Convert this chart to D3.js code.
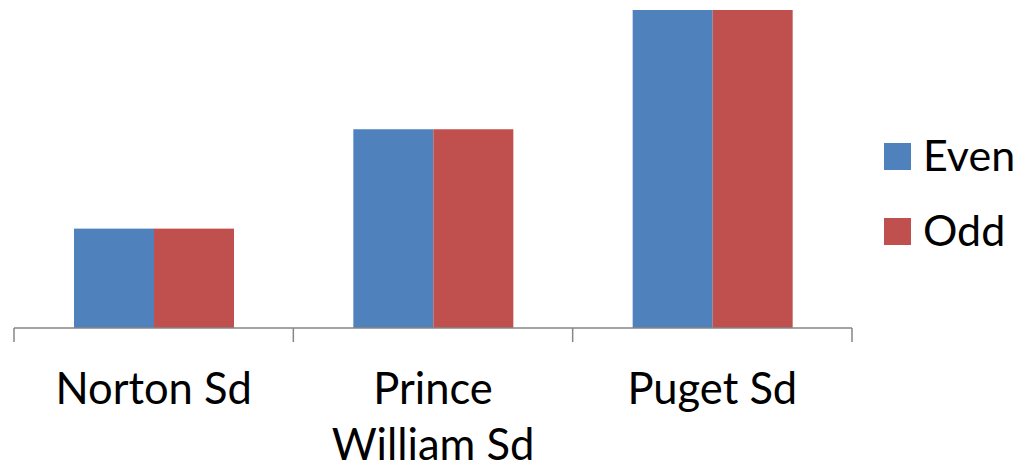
<html>
  <head>
    <meta charset="utf-8">
    <title>chart</title>
    <style>
      body { margin: 0; background: #fff; }
      text { font-family: Lato, "Noto Sans", sans-serif; fill: #000; }
    </style>
  </head>
  <body>
    <script src="https://cdn.jsdelivr.net/npm/d3@7"></script>
    <script>

var categories = ["Norton Sd", "Prince William Sd", "Puget Sd"];
var labelLines = [["Norton Sd"], ["Prince", "William Sd"], ["Puget Sd"]];
var series = ["Even", "Odd"];
var evenValues = [1.0, 2.0, 3.2];
var oddValues = [1.0, 2.0, 3.2];
var colors = ["#4F81BD", "#C0504D"];

var width = 1018, height = 468;
var plot = {left: 14, right: 852, top: 10, bottom: 328};

var svg = d3.select("body").append("svg")
    .attr("width", width)
    .attr("height", height);

var x0 = d3.scaleBand()
    .domain(categories)
    .range([plot.left, plot.right]);

var x1 = d3.scaleBand()
    .domain(series)
    .range([60, 220]);

var y = d3.scaleLinear()
    .domain([0, 3.2])
    .range([plot.bottom, plot.top]);

var data = categories.map(function (c, i) {
  return {cat: c, values: [evenValues[i], oddValues[i]]};
});

var groups = svg.selectAll(".grp")
  .data(data)
  .enter().append("g")
    .attr("transform", function (d) { return "translate(" + x0(d.cat) + ",0)"; });

groups.selectAll("rect")
  .data(function (d) { return d.values.map(function (v, j) { return {s: series[j], v: v, c: colors[j]}; }); })
  .enter().append("rect")
    .attr("x", function (d) { return x1(d.s); })
    .attr("y", function (d) { return y(d.v); })
    .attr("width", x1.bandwidth())
    .attr("height", function (d) { return y(0) - y(d.v); })
    .attr("fill", function (d) { return d.c; });

// category axis
var axis = svg.append("g");
axis.append("line")
    .attr("x1", plot.left).attr("x2", plot.right)
    .attr("y1", plot.bottom).attr("y2", plot.bottom)
    .attr("stroke", "#868686").attr("stroke-width", 1.5);

var tickPos = categories.map(function (c) { return x0(c); }).concat([plot.right]);
axis.selectAll(".tick")
  .data(tickPos)
  .enter().append("line")
    .attr("x1", function (d) { return d; }).attr("x2", function (d) { return d; })
    .attr("y1", plot.bottom).attr("y2", plot.bottom + 14)
    .attr("stroke", "#868686").attr("stroke-width", 1.5);

var labels = axis.selectAll(".lab")
  .data(categories)
  .enter().append("text")
    .attr("text-anchor", "middle")
    .attr("font-size", 43.5)
    .attr("x", function (d) { return x0(d) + x0.bandwidth() / 2; })
    .attr("y", 404);

labels.selectAll("tspan")
  .data(function (d, i) { return labelLines[i]; })
  .enter().append("tspan")
    .attr("x", function () { return d3.select(this.parentNode).attr("x"); })
    .attr("dy", function (d, i) { return i === 0 ? 0 : 56; })
    .text(function (d) { return d; });

// legend
var legend = svg.selectAll(".leg")
  .data(series)
  .enter().append("g")
    .attr("transform", function (d, i) { return "translate(884," + (143 + i * 75) + ")"; });

legend.append("rect")
    .attr("width", 27).attr("height", 27)
    .attr("fill", function (d, i) { return colors[i]; });

legend.append("text")
    .attr("x", 39).attr("y", 28)
    .attr("font-size", 43)
    .text(function (d) { return d; });

    </script>
  </body>
</html>
